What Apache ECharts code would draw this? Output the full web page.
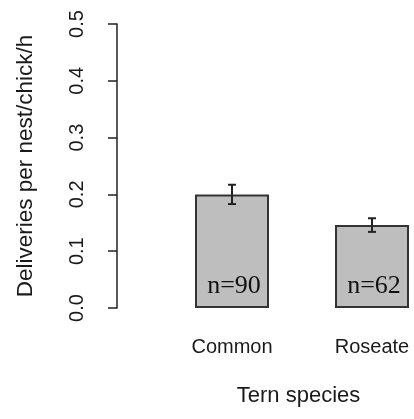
<!DOCTYPE html>
<html>
<head>
<meta charset="utf-8">
<script src="https://cdn.jsdelivr.net/npm/echarts@6/dist/echarts.min.js"></script>
<style>
  html, body { margin: 0; padding: 0; background: #ffffff; }
  #chart { width: 414px; height: 419px; }
</style>
</head>
<body>
<div id="chart"></div>
<script>
// Feeding rate per nest per chick per hour, by tern species
const categories = ['Common', 'Roseate'];
const means = [0.200, 0.146];
const stdErr = [0.017, 0.012];
const sampleSizes = [90, 62];
const yMin = 0;
const yMax = 0.5;
const yStep = 0.1;

const chart = echarts.init(document.getElementById('chart'), null, { renderer: 'canvas' });

const errorData = categories.map((c, i) => [i, means[i] - stdErr[i], means[i] + stdErr[i]]);

const textColor = '#1a1a1a';
const sansFont = '"Liberation Sans", Arial, sans-serif';

chart.setOption({
  animation: false,
  backgroundColor: '#ffffff',
  grid: {
    left: 162, width: 280, top: 24, height: 284,
    containLabel: false, outerBoundsMode: 'none'
  },
  xAxis: {
    type: 'category',
    data: categories,
    boundaryGap: true,
    axisLine: { show: false },
    axisTick: { show: false },
    axisLabel: { color: textColor, fontFamily: sansFont, fontSize: 20, margin: 29 },
    name: 'Tern species',
    nameLocation: 'middle',
    nameGap: 77,
    nameTextStyle: { color: textColor, fontFamily: sansFont, fontSize: 22, padding: [0, 7, 0, 0] }
  },
  yAxis: {
    type: 'value',
    min: yMin,
    max: yMax,
    interval: yStep,
    offset: 45,
    splitLine: { show: false },
    axisLine: { show: true, lineStyle: { color: '#222', width: 1.5 } },
    axisTick: { show: true, length: 9, lineStyle: { color: '#222', width: 1.5 } },
    axisLabel: {
      color: textColor, fontFamily: sansFont, fontSize: 20, rotate: 90, margin: 30,
      formatter: v => v.toFixed(1)
    },
    name: 'Deliveries per nest/chick/h',
    nameLocation: 'middle',
    nameRotate: 90,
    nameGap: 80,
    nameTextStyle: { color: textColor, fontFamily: sansFont, fontSize: 22.5 }
  },
  series: [
    {
      type: 'bar',
      data: means,
      barWidth: 74,
      itemStyle: { color: '#bebebe', borderColor: '#333333', borderWidth: 2 },
      label: {
        show: true,
        position: 'insideBottom',
        distance: 9,
        offset: [2, 0],
        formatter: p => 'n=' + sampleSizes[p.dataIndex],
        fontFamily: '"Liberation Serif", "Times New Roman", serif',
        fontSize: 26,
        color: '#111'
      }
    },
    {
      type: 'custom',
      data: errorData,
      z: 10,
      renderItem: (params, api) => {
        const lo = api.coord([api.value(0), api.value(1)]);
        const hi = api.coord([api.value(0), api.value(2)]);
        const cap = 4;
        const style = { stroke: '#222', lineWidth: 2 };
        return {
          type: 'group',
          children: [
            { type: 'line', shape: { x1: lo[0], y1: lo[1], x2: hi[0], y2: hi[1] }, style },
            { type: 'line', shape: { x1: lo[0] - cap, y1: lo[1], x2: lo[0] + cap, y2: lo[1] }, style },
            { type: 'line', shape: { x1: hi[0] - cap, y1: hi[1], x2: hi[0] + cap, y2: hi[1] }, style }
          ]
        };
      }
    }
  ]
});
</script>
</body>
</html>
